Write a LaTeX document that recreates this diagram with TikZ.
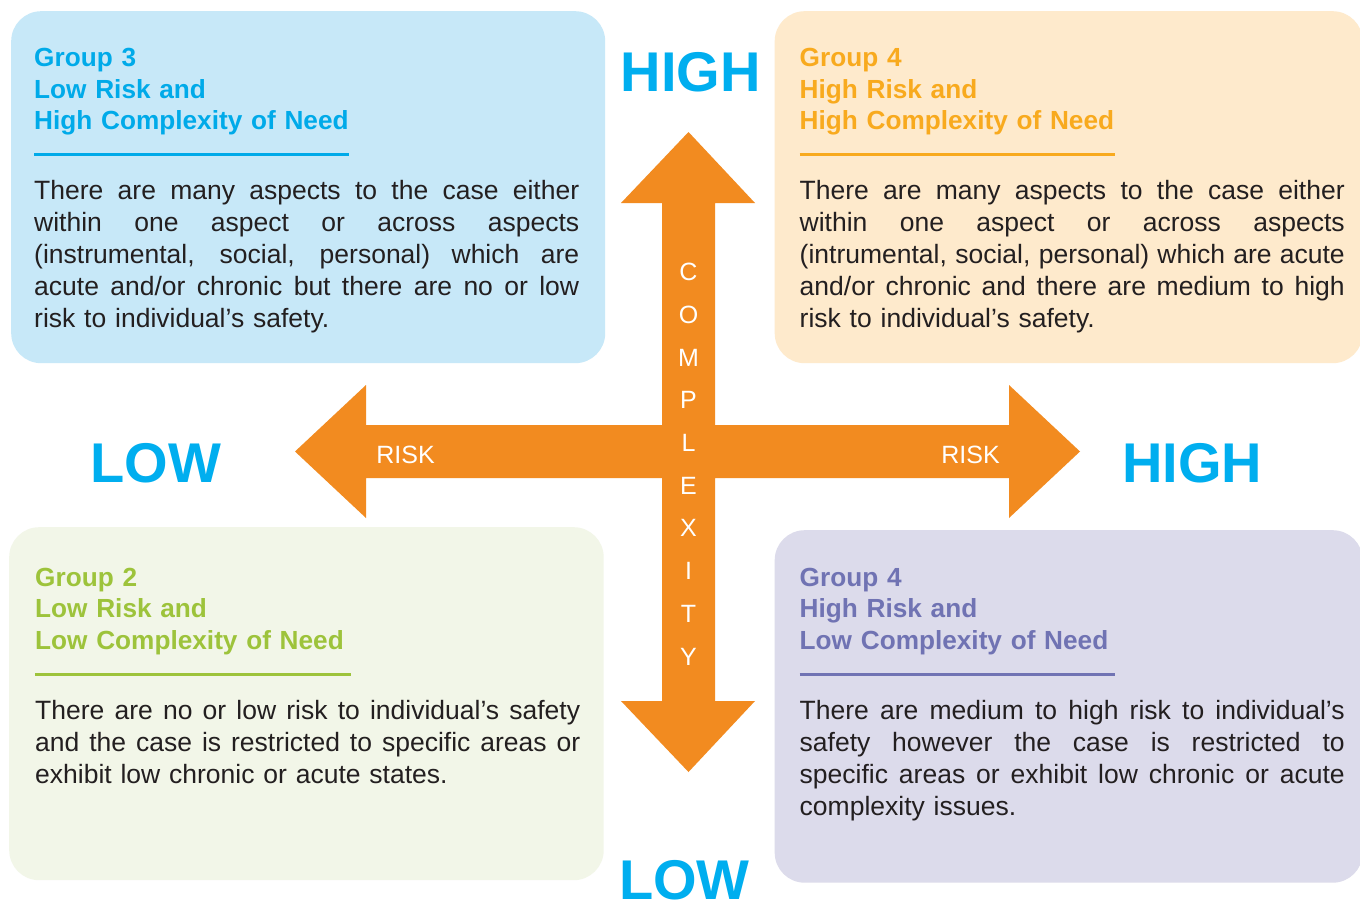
\documentclass[tikz,border=0pt]{standalone}
\usepackage{fontspec}
\setmainfont{Liberation Sans}
\hbadness=10000
\definecolor{tlfill}{HTML}{C7E8F8}
\definecolor{trfill}{HTML}{FEEACC}
\definecolor{blfill}{HTML}{F2F6E8}
\definecolor{brfill}{HTML}{DCDBEB}
\definecolor{tlc}{HTML}{00AAE9}
\definecolor{trc}{HTML}{F8AA1E}
\definecolor{blc}{HTML}{9DC33B}
\definecolor{brc}{HTML}{7073B3}
\definecolor{bigc}{HTML}{00AEEF}
\definecolor{orangec}{HTML}{F28B20}
\definecolor{bodyc}{HTML}{231F20}
\newcommand{\jline}[1]{\makebox[545pt][s]{\spaceskip=0pt\xspaceskip=0pt #1}}
\tikzset{
  quad/.style={rounded corners=30pt, draw=none, inner sep=0pt, anchor=north west},
  grouptitle/.style={anchor=base west, inner sep=0pt, text width=400pt, align=left,
    font=\bfseries\fontsize{26.2}{31.5}\selectfont},
  bodytext/.style={anchor=base west, inner sep=0pt, text width=545pt, align=left,
    text=bodyc, font=\fontsize{26.5}{32}\selectfont},
  biglabel/.style={anchor=base, inner sep=0pt, text=bigc,
    font=\bfseries\fontsize{56}{60}\selectfont},
  onarrow/.style={anchor=base, inner sep=0pt, text=white,
    font=\fontsize{25}{30}\selectfont},
  rule/.style={line width=3pt}
}
\begin{document}
\begin{tikzpicture}[x=1pt,y=-1pt]
\useasboundingbox (0,0) rectangle (1360,902);
\fill[white] (0,0) rectangle (1360,902);

% boxes
\node[quad, fill=tlfill, minimum width=594pt, minimum height=352pt] (tl) at (11,11) {};
\node[quad, fill=trfill, minimum width=588pt, minimum height=352pt] (tr) at (774.5,11) {};
\node[quad, fill=blfill, minimum width=594.5pt, minimum height=353pt] (bl) at (9,527) {};
\node[quad, fill=brfill, minimum width=588pt, minimum height=352.5pt] (br) at (774.5,530) {};

% cross arrow
\fill[orangec] (688.5,132) -- (755,203) -- (715,203) -- (715,425) -- (1009,425) -- (1009,385)
  -- (1080,451.5) -- (1009,518) -- (1009,478) -- (715,478) -- (715,701) -- (755,701)
  -- (688.5,772) -- (621,701) -- (662,701) -- (662,478) -- (366,478) -- (366,518)
  -- (295,451.5) -- (366,385) -- (366,425) -- (662,425) -- (662,203) -- (621,203) -- cycle;

\foreach \l [count=\i from 0] in {C,O,M,P,L,E,X,I,T,Y}
  \node[onarrow] (cx\i) at (688.5,280.7+42.7*\i) {\l};
\node[onarrow] (riskl) at (405.5,463.3) {RISK};
\node[onarrow] (riskr) at (970.5,463.3) {RISK};

% big labels
\node[biglabel] (hightop) at (690.8,91) {HIGH};
\node[biglabel] (lowleft) at (156,482.5) {LOW};
\node[biglabel] (highright) at (1192,482.5) {HIGH};
\node[biglabel] (lowbottom) at (684.5,899.5) {LOW};

% group 3 (top left)
\node[grouptitle, text=tlc] (t3) at (34,66.5) {Group 3\\Low Risk and\\High Complexity of Need};
\draw[rule, tlc] (34,154.5) -- (349,154.5);
\node[bodytext] (b3) at (34,199) {\jline{There are many aspects to the case either}\\
\jline{within one aspect or across aspects}\\
\jline{(instrumental, social, personal) which are}\\
\jline{acute and/or chronic but there are no or low}\\
risk to individual’s safety.};

% group 4 (top right)
\node[grouptitle, text=trc] (t4a) at (799.5,66.5) {Group 4\\High Risk and\\High Complexity of Need};
\draw[rule, trc] (799.5,154.5) -- (1115,154.5);
\node[bodytext] (b4a) at (799.5,199) {\jline{There are many aspects to the case either}\\
\jline{within one aspect or across aspects}\\
\jline{(intrumental, social, personal) which are acute}\\
\jline{and/or chronic and there are medium to high}\\
risk to individual’s safety.};

% group 2 (bottom left)
\node[grouptitle, text=blc] (t2) at (35,586) {Group 2\\Low Risk and\\Low Complexity of Need};
\draw[rule, blc] (35,674) -- (351,674);
\node[bodytext] (b2) at (35,719) {\jline{There are no or low risk to individual’s safety}\\
\jline{and the case is restricted to specific areas or}\\
exhibit low chronic or acute states.};

% group 4 (bottom right)
\node[grouptitle, text=brc] (t4b) at (799.5,586) {Group 4\\High Risk and\\Low Complexity of Need};
\draw[rule, brc] (799.5,674) -- (1115,674);
\node[bodytext] (b4b) at (799.5,719) {\jline{There are medium to high risk to individual’s}\\
\jline{safety however the case is restricted to}\\
\jline{specific areas or exhibit low chronic or acute}\\
complexity issues.};
\end{tikzpicture}
\end{document}
